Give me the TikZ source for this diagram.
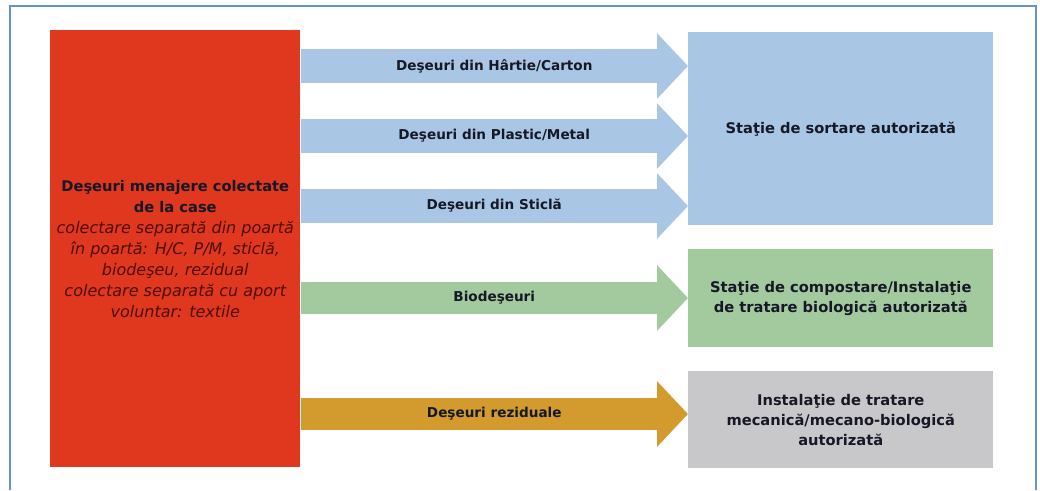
\documentclass[tikz,border=0pt]{standalone}
\usepackage{fontspec}
\setmainfont{DejaVu Sans}
\usepackage{tikz}
\usetikzlibrary{arrows.meta}

\definecolor{redbox}{RGB}{224,56,30}
\definecolor{bluebox}{RGB}{169,199,229}
\definecolor{greenbox}{RGB}{163,201,158}
\definecolor{greybox}{RGB}{200,200,203}
\definecolor{goldarrow}{RGB}{211,155,46}
\definecolor{framecol}{RGB}{98,148,204}
\definecolor{inktext}{RGB}{22,24,38}
\definecolor{italtext}{RGB}{78,12,8}

\tikzset{
  box/.style={anchor=north west, inner sep=0pt, minimum width=228.75pt, align=center,
    text=inktext, font=\fontsize{11}{15}\selectfont\bfseries},
  flow/.style={line width=25.5pt, -{Triangle[length=23.25pt,width=48pt]}},
  flowtext/.style={midway, text=inktext, font=\fontsize{10.2}{12}\selectfont\bfseries}
}

\begin{document}
\begin{tikzpicture}[x=0.75pt,y=0.75pt,yscale=-1,xscale=1]
   \useasboundingbox (0,0) rectangle (1040,490);

   %Straight Lines [frame]
   \draw [color=framecol, line width=1.1pt] (10,490) -- (10,6) -- (1036,6) -- (1036,490);

   %Shape: Rectangle [red]
   \node [anchor=north west, inner sep=0pt, fill=redbox, minimum width=187.5pt, minimum height=327.75pt] (red) at (50,30) {};
   % Text Node
   \node [align=center, inner sep=0pt, font=\fontsize{11}{15.75}\selectfont] (redtxt) at (red.center)
     {\textcolor{inktext}{\bfseries Deşeuri menajere colectate}\\
      \textcolor{inktext}{\bfseries de la case}\\
      \textcolor{italtext}{\fontsize{12}{15.75}\selectfont\itshape colectare separată din poartă}\\
      \textcolor{italtext}{\fontsize{12}{15.75}\selectfont\itshape în poartă: H/C, P/M, sticlă,}\\
      \textcolor{italtext}{\fontsize{12}{15.75}\selectfont\itshape biodeşeu, rezidual}\\
      \textcolor{italtext}{\fontsize{12}{15.75}\selectfont\itshape colectare separată cu aport}\\
      \textcolor{italtext}{\fontsize{12}{15.75}\selectfont\itshape voluntar: textile}};

   %Shape: Rectangle [sorting]
   \node [box, fill=bluebox, minimum height=144.75pt] (sort) at (688,32) {Staţie de sortare autorizată};
   %Shape: Rectangle [composting]
   \node [box, fill=greenbox, minimum height=73.5pt] (comp) at (688,249) {Staţie de compostare/Instalaţie\\de tratare biologică autorizată};
   %Shape: Rectangle [mechanical-biological]
   \node [box, fill=greybox, minimum height=72.75pt] (tmb) at (688,371) {Instalaţie de tratare\\mecanică/mecano-biologică\\autorizată};

   %Arrows
   \draw [flow, color=bluebox] (red.east |- 0,66) -- (sort.west |- 0,66) node [flowtext] {Deşeuri din Hârtie/Carton};
   \draw [flow, color=bluebox] (red.east |- 0,136) -- (sort.west |- 0,136) node [flowtext] {Deşeuri din Plastic/Metal};
   \draw [flow, color=bluebox] (red.east |- 0,206) -- (sort.west |- 0,206) node [flowtext] {Deşeuri din Sticlă};
   \draw [flow, color=greenbox, line width=24pt] (red.east |- 0,298) -- (comp.west |- 0,298) node [flowtext] {Biodeşeuri};
   \draw [flow, color=goldarrow, line width=24pt] (red.east |- 0,414) -- (tmb.west |- 0,414) node [flowtext] {Deşeuri reziduale};

\end{tikzpicture}
\end{document}
